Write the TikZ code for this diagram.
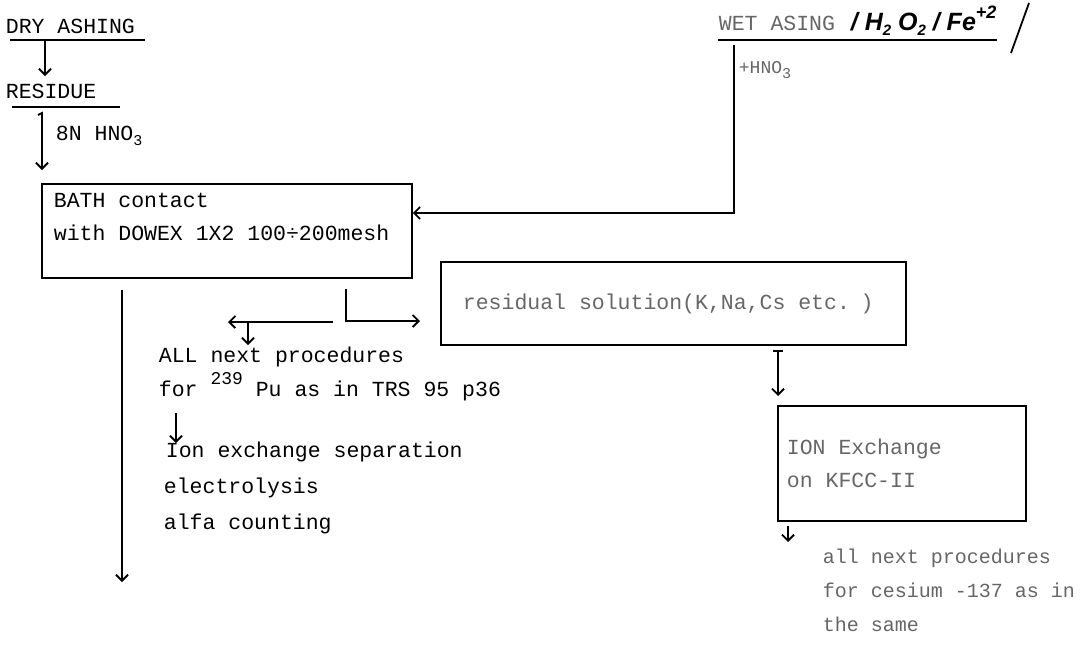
\documentclass[tikz,border=0pt]{standalone}
\usepackage{fontspec}
\setmainfont{Liberation Mono}
\newfontfamily\handfont{Liberation Sans}
\usetikzlibrary{arrows.meta,positioning,calc}
\tikzset{every picture/.style={line width=1.8pt}}
\newcommand{\lowidx}[1]{\raisebox{-5pt}{\fontsize{15}{15}\selectfont #1}}
\newcommand{\upidx}[1]{\raisebox{12pt}{\fontsize{18}{18}\selectfont #1}}

\begin{document}
\begin{tikzpicture}[x=1pt,y=-1pt,
    >={Straight Barb[length=6pt,width=12pt]},
    txt/.style={anchor=base west,inner sep=0pt,font=\fontsize{21.5}{35}\selectfont},
    small/.style={anchor=base west,inner sep=0pt,font=\fontsize{18}{20}\selectfont},
    faded/.style={text=black!60},
    box/.style={draw,anchor=north west,align=left,inner xsep=12pt,inner ysep=0pt,
                font=\fontsize{21.5}{33}\selectfont,
                execute at begin node={\spaceskip=0.6em\relax}}]
    \useasboundingbox (0,0) rectangle (1080,651);

    % Dry ashing
    \node[txt] (dry) at (5,33) {DRY ASHING};
    \draw ($(dry.base west)+(5,7)$) -- ++(135,0);
    \node[txt] (res) at (5,98) {RESIDUE};
    \draw ($(res.base west)+(7,9)$) -- ++(108,0);
    \draw[->] ($(dry.base west)+(40,8)$) -- ($(res.base west)+(40,-22)$);
    \node[txt] (hno) at (55,140) {8N HNO\lowidx{3}};

    % Batch contact box
    \node[box,minimum width=370,minimum height=94,text width=346pt,
          text height=24pt,text depth=70pt] (bath) at (41,183)
        {BATH contact\\with DOWEX 1X2 100÷200mesh};
    \draw[->] ($(res.base west)+(33,17)$) -- ++(4,-2) -- ($(bath.north west)+(1,-13)$);

    % Wet ashing
    \node[txt,faded] (wet) at (718,30) {WET ASING};
    \node[txt,font=\handfont\bfseries\itshape\fontsize{25}{28}\selectfont] (hand) at (850,30)
        {/ H\lowidx{2} O\lowidx{2} / Fe\upidx{+2}};
    \draw ($(wet.base west)+(0,10)$) -- ++(279,0);
    \draw (1029,3) -- (1011,53);
    \node[small,faded] (hnowet) at (738,73) {+HNO\lowidx{3}};
    \coordinate (wetturn) at (734,213);
    \draw[->] ($(wet.base west)+(16,15)$) |- (wetturn -| bath.east);

    % Plutonium branch
    \coordinate (puend) at (122,582);
    \draw[->] ($(bath.south west)+(81,11)$) -- (puend);
    \node[txt] (all1) at (158,362) {ALL next procedures};
    \node[txt] (pu1) at (158,396) {for \upidx{239} Pu as in TRS 95 p36};
    \node[txt] (ionsep) at (165,457) {Ion exchange separation};
    \node[txt] (electro) at (163,493) {electrolysis};
    \node[txt] (alfa) at (163,529) {alfa counting};
    \draw[->] ($(pu1.base west)+(18,17)$) -- ($(ionsep.base west)+(11,-14)$);

    % Split under the box
    \node[box,minimum width=465,minimum height=83,text width=421pt,inner xsep=22pt,
          anchor=west,faded] (resid) at (440,303.5) {residual solution(K,Na,Cs etc. )};
    \coordinate (split) at (346,321);
    \draw[->] ($(bath.south west)+(305,10)$) |- ([xshift=-20pt]split -| resid.west);
    \draw[->] ($(split)+(-13,1)$) -- ($(all1.base west)+(70,-40)$);
    \draw[->] ($(all1.base west)+(90,-39)$) -- ($(all1.base west)+(90,-17)$);

    % Caesium branch
    \node[box,minimum width=248,minimum height=115,text width=230pt,inner xsep=9pt,
          faded] (ion) at (777,405) {ION Exchange\\on KFCC-II};
    \draw[->] ($(resid.south west)+(333,5)$) -- ++(10,0) ++(-5,0) -- ($(ion.north west)+(1,-9)$);
    \node[txt,faded,font=\fontsize{20}{24}\selectfont] (cs1) at (822,563) {all next procedures};
    \node[txt,faded,font=\fontsize{20}{24}\selectfont] (cs2) at (822,597) {for cesium -137 as in};
    \node[txt,faded,font=\fontsize{20}{24}\selectfont] (cs3) at (822,631) {the same};
    \draw[->] ($(ion.south west)+(11,4)$) -- ($(cs1.base west)+(-34,-21)$);
\end{tikzpicture}
\end{document}
